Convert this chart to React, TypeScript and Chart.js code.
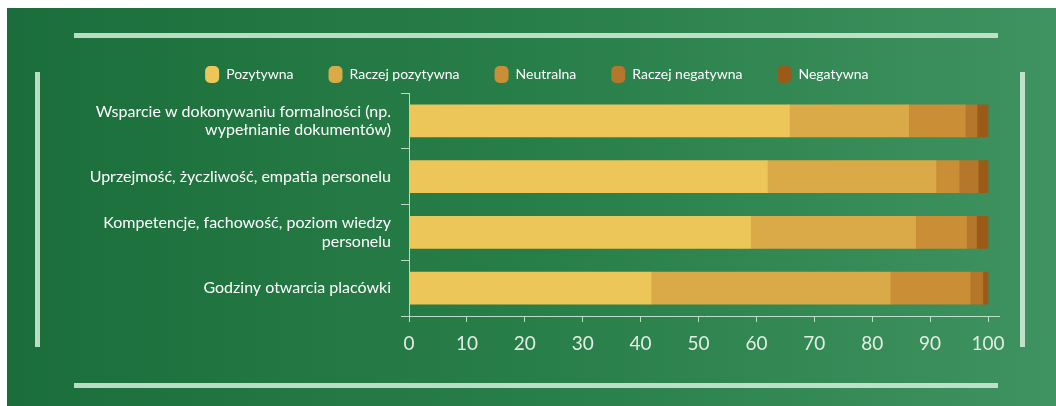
import React, { useEffect, useRef } from "react";
import { Chart, registerables } from "chart.js";

Chart.register(...registerables);

const categories: (string | string[])[] = [
  ["Wsparcie w dokonywaniu formalności (np.", "wypełnianie dokumentów)"],
  "Uprzejmość, życzliwość, empatia personelu",
  ["Kompetencje, fachowość, poziom wiedzy", "personelu"],
  "Godziny otwarcia placówki",
];

const seriesNames = ["Pozytywna", "Raczej pozytywna", "Neutralna", "Raczej negatywna", "Negatywna"];

const pozytywna = [65.7, 61.9, 59.0, 41.8];
const raczejPozytywna = [20.6, 29.1, 28.5, 41.3];
const neutralna = [9.8, 4.0, 8.8, 13.8];
const raczejNegatywna = [2.0, 3.3, 1.7, 2.2];
const negatywna = [1.9, 1.7, 2.0, 0.9];

const seriesValues = [pozytywna, raczejPozytywna, neutralna, raczejNegatywna, negatywna];
const seriesColors = ["#EDC65A", "#DBAA48", "#C98E36", "#B4772B", "#9C5A18"];

const xTickValues = [0, 10, 20, 30, 40, 50, 60, 70, 80, 90, 100];

const lineColor = "rgba(214, 238, 220, 0.85)";

export default function App() {
  const canvasRef = useRef<HTMLCanvasElement | null>(null);

  useEffect(() => {
    if (!canvasRef.current) return;
    const chart = new Chart(canvasRef.current, {
      type: "bar",
      data: {
        labels: categories as any,
        datasets: seriesNames.map((name, i) => ({
          label: name,
          data: seriesValues[i],
          backgroundColor: seriesColors[i],
          borderWidth: 0,
          barThickness: 32,
        })),
      },
      options: {
        indexAxis: "y",
        animation: false,
        responsive: false,
        maintainAspectRatio: false,
        layout: { padding: { top: 0, right: 10.4, left: 0, bottom: 0 } },
        plugins: {
          tooltip: { enabled: false },
          legend: {
            position: "top",
            labels: {
              color: "#ffffff",
              font: { family: "Lato", size: 14 },
              boxWidth: 14,
              boxHeight: 17,
              useBorderRadius: true,
              borderRadius: 5,
              padding: 35,
            } as any,
          },
        },
        scales: {
          x: {
            stacked: true,
            min: 0,
            max: 102,
            afterBuildTicks: (scale: any) => {
              scale.ticks = xTickValues.map((v) => ({ value: v }));
            },
            afterFit: (scale: any) => {
              scale.height = 49;
              scale.paddingRight = 0;
              scale.paddingLeft = 0;
            },
            ticks: {
              color: "#e3ece5",
              font: { family: "Lato", size: 19 },
              padding: 10,
              maxRotation: 0,
              autoSkip: false,
            },
            grid: {
              display: true,
              drawOnChartArea: false,
              drawTicks: true,
              tickLength: 6,
              color: lineColor,
              lineWidth: 1,
            },
            border: { display: true, color: lineColor, width: 1 },
          },
          y: {
            stacked: true,
            afterFit: (scale: any) => {
              scale.width = 335;
            },
            ticks: {
              color: "#ffffff",
              font: { family: "Lato", size: 16, lineHeight: 1.15 },
              padding: 10,
              autoSkip: false,
            },
            grid: {
              display: true,
              drawOnChartArea: false,
              drawTicks: true,
              tickLength: 8,
              color: lineColor,
              lineWidth: 1,
            },
            border: { display: true, color: lineColor, width: 1 },
          },
        },
      },
    });
    return () => chart.destroy();
  }, []);

  return (
    <div
      style={{
        position: "absolute",
        left: 7,
        top: 8,
        width: 1049,
        height: 398,
        overflow: "hidden",
        background: "linear-gradient(90deg, #1b6e3b 0%, #287e48 50%, #3e9360 100%)",
      }}
    >
      <div style={{ position: "absolute", left: 67, top: 25, width: 924, height: 5, background: lineColor }} />
      <div style={{ position: "absolute", left: 67, top: 375, width: 924, height: 5, background: lineColor }} />
      <div style={{ position: "absolute", left: 28, top: 64, width: 5, height: 275, background: lineColor }} />
      <div style={{ position: "absolute", left: 1013, top: 64, width: 5, height: 275, background: lineColor }} />
      <canvas
        ref={canvasRef}
        width={936}
        height={334}
        style={{ position: "absolute", left: 67, top: 23, width: 936, height: 334 }}
      />
    </div>
  );
}
